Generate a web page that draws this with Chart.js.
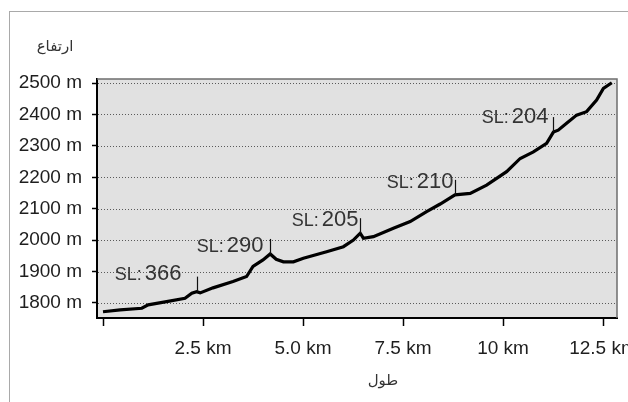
<!DOCTYPE html>
<html lang="fa">
<head>
<meta charset="UTF-8">
<title>نمودار ارتفاع مسیر</title>
<script src="https://cdn.jsdelivr.net/npm/chart.js"></script>
<style>
  body { margin: 0; background: #fff; }
</style>
</head>
<body>
<canvas id="profile" width="628" height="402"></canvas>
<script>
// distance along the route (km) and elevation (m)
const distKm = [0.00, 0.43, 0.97, 1.13, 1.59, 2.05, 2.22, 2.34, 2.43, 2.75, 3.25, 3.59, 3.75, 4.00, 4.18,
  4.33, 4.51, 4.76, 5.01, 5.59, 6.01, 6.26, 6.43, 6.51, 6.76, 7.26, 7.68, 8.09, 8.43, 8.80, 9.18, 9.59,
  10.09, 10.43, 10.76, 11.09, 11.26, 11.38, 11.59, 11.84, 12.09, 12.34, 12.51, 12.72];
const elevM = [1772, 1778, 1783, 1794, 1804, 1815, 1831, 1836, 1832, 1848, 1868, 1884, 1916, 1937, 1956,
  1939, 1931, 1931, 1942, 1963, 1979, 2000, 2022, 2006, 2011, 2038, 2059, 2091, 2115, 2144, 2149, 2175,
  2218, 2260, 2281, 2308, 2344, 2350, 2372, 2398, 2409, 2446, 2483, 2501];

const xTicks = [0, 2.5, 5, 7.5, 10, 12.5];
const xTickLabels = ['', '2.5 km', '5.0 km', '7.5 km', '10 km', '12.5 km'];
const yTicks = [1800, 1900, 2000, 2100, 2200, 2300, 2400, 2500];

// SL markers
const slKm = [2.34, 4.18, 6.43, 8.80, 11.26];
const slNum = ['366', '290', '205', '210', '204'];

const yTitle = 'ارتفاع';
const xTitle = 'طول';

const FONT = '"Liberation Sans", Arial, sans-serif';
// nudge of each SL label relative to its marker (px)
const slLabelNudge = [[-14, -5], [-5, 5], [0, 0], [0, 0], [-3, -2]];

const decor = {
  id: 'decor',
  beforeDraw(chart) {
    const { ctx, chartArea: a } = chart;
    ctx.save();
    ctx.fillStyle = '#fff';
    ctx.fillRect(0, 0, chart.width, chart.height);
    ctx.strokeStyle = '#a9a9a9';
    ctx.lineWidth = 1;
    ctx.strokeRect(9.5, 11.5, chart.width + 20, chart.height + 20);
    ctx.fillStyle = '#e1e1e1';
    ctx.fillRect(a.left, a.top, a.right - a.left, a.bottom - a.top);
    ctx.restore();
  },
  beforeDatasetsDraw(chart) {
    // dotted horizontal grid
    const { ctx, chartArea: a } = chart;
    const ys = chart.scales.y;
    ctx.save();
    ctx.strokeStyle = '#5a5a5a';
    ctx.lineWidth = 1;
    ctx.setLineDash([1, 2]);
    ys.ticks.forEach(t => {
      const y = Math.round(ys.getPixelForValue(t.value)) + 0.5;
      ctx.beginPath();
      ctx.moveTo(a.left + 1, y);
      ctx.lineTo(a.right, y);
      ctx.stroke();
    });
    ctx.restore();
  },
  afterDraw(chart) {
    const { ctx, chartArea: a } = chart;
    ctx.save();
    // top / right frame of the plot
    ctx.strokeStyle = '#6e6e6e';
    ctx.lineWidth = 1.5;
    ctx.beginPath();
    ctx.moveTo(a.left, a.top);
    ctx.lineTo(a.right, a.top);
    ctx.lineTo(a.right, a.bottom);
    ctx.stroke();
    // axis titles
    ctx.fillStyle = '#333';
    ctx.font = '15px "DejaVu Sans", sans-serif';
    ctx.textAlign = 'center';
    ctx.textBaseline = 'middle';
    ctx.fillText(yTitle, a.left - 42, a.top - 32);
    ctx.fillText(xTitle, a.left + 286, a.bottom + 63);
    ctx.restore();
  },
  afterDatasetsDraw(chart) {
    const { ctx } = chart;
    const xs = chart.scales.x, ys = chart.scales.y;
    ctx.save();
    slKm.forEach((km, n) => {
      let best = 0;
      distKm.forEach((d, i) => { if (Math.abs(d - km) < Math.abs(distKm[best] - km)) best = i; });
      const px = Math.round(xs.getPixelForValue(distKm[best])) + 0.5;
      const py = ys.getPixelForValue(elevM[best]);
      ctx.strokeStyle = '#111';
      ctx.lineWidth = 1.2;
      ctx.beginPath();
      ctx.moveTo(px, py);
      ctx.lineTo(px, py - 15);
      ctx.stroke();
      ctx.fillStyle = '#333';
      ctx.textAlign = 'right';
      ctx.textBaseline = 'alphabetic';
      const right = px - 2 + slLabelNudge[n][0];
      const base = py - 7 + slLabelNudge[n][1];
      ctx.font = '22px ' + FONT;
      const w = ctx.measureText(slNum[n]).width;
      ctx.fillText(slNum[n], right, base);
      ctx.font = '18px ' + FONT;
      ctx.fillText('SL:', right - w - 3, base);
    });
    ctx.restore();
  }
};

new Chart(document.getElementById('profile'), {
  type: 'line',
  data: {
    datasets: [{
      data: distKm.map((d, i) => ({ x: d, y: elevM[i] })),
      borderColor: '#000',
      borderWidth: 3.2,
      pointRadius: 0,
      tension: 0,
      fill: false
    }]
  },
  options: {
    responsive: false,
    animation: false,
    devicePixelRatio: 1,
    layout: { padding: { left: 0, top: 79, right: 11, bottom: 0 } },
    plugins: { legend: { display: false }, tooltip: { enabled: false } },
    scales: {
      x: {
        type: 'linear',
        min: -0.15,
        max: 12.85,
        afterBuildTicks: s => { s.ticks = xTicks.map(v => ({ value: v })); },
        afterFit: s => { s.height = 84; s.paddingLeft = 0; s.paddingRight = 0; },
        ticks: {
          callback: (v, i) => xTickLabels[i],
          autoSkip: false,
          maxRotation: 0,
          padding: 11,
          color: '#1e1e1e',
          font: { size: 19, family: FONT }
        },
        grid: { drawOnChartArea: false, drawTicks: true, tickLength: 8, tickColor: '#000', tickWidth: 1.5 },
        border: { color: '#000', width: 2 }
      },
      y: {
        min: 1752,
        max: 2513,
        afterBuildTicks: s => { s.ticks = yTicks.map(v => ({ value: v })); },
        afterFit: s => { s.width = 97; s.paddingTop = 0; s.paddingBottom = 0; },
        ticks: {
          callback: v => v + ' m',
          padding: 10,
          color: '#1e1e1e',
          font: { size: 19, family: FONT }
        },
        grid: { drawOnChartArea: false, drawTicks: true, tickLength: 5, tickColor: '#000', tickWidth: 1.5 },
        border: { color: '#000', width: 2 }
      }
    }
  },
  plugins: [decor]
});
</script>
</body>
</html>
